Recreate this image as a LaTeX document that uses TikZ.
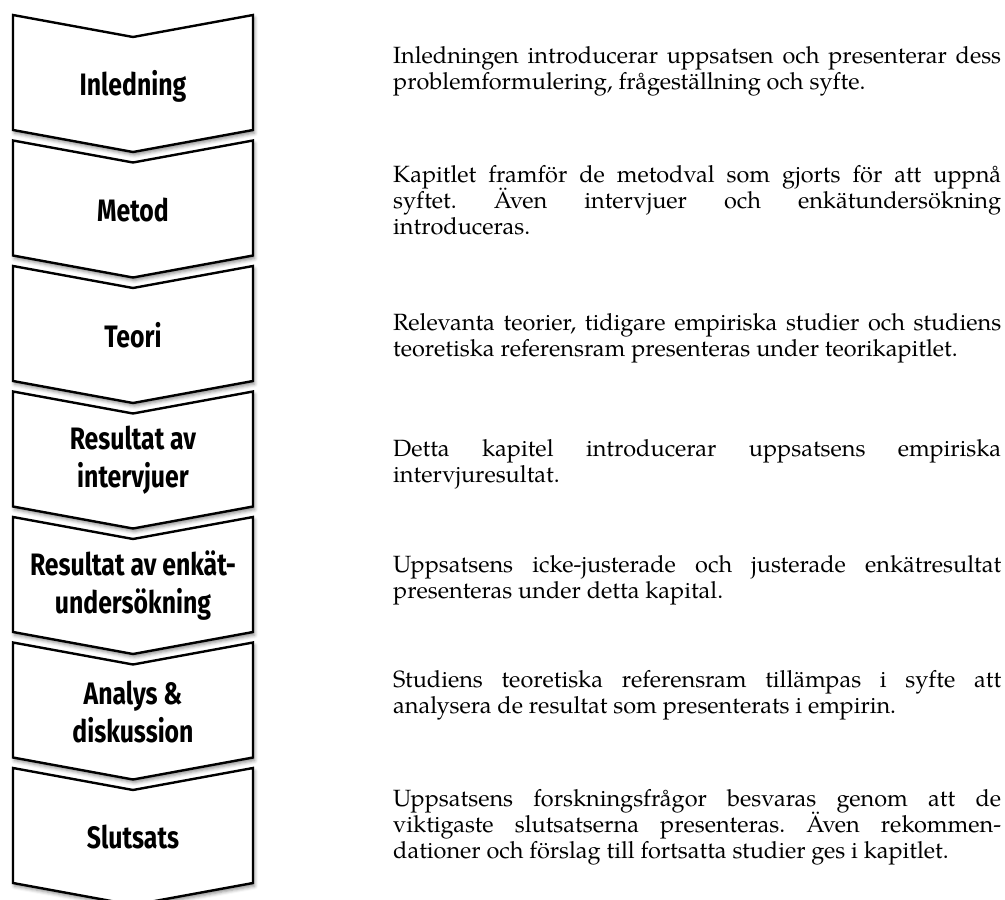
\documentclass[tikz,border=0pt]{standalone}
\usepackage{fontspec}
\setmainfont{texgyrepagella}[Extension=.otf, UprightFont=*-regular, BoldFont=*-bold, ItalicFont=*-italic, BoldItalicFont=*-bolditalic]
\newfontfamily\labelfont{Fira Sans}[FakeStretch=0.8]
\usetikzlibrary{shadows.blur}
\frenchspacing
\tikzset{
  chev/.style={draw=black, line width=2.4pt, fill=white, line join=miter,
    blur shadow={shadow xshift=1.5pt, shadow yshift=-3pt, shadow opacity=45, shadow blur radius=3.5pt}},
  lab/.style={align=center, inner sep=0pt, font=\labelfont\bfseries\fontsize{31}{38}\selectfont},
  desc/.style={anchor=base west, inner sep=0pt, font=\frenchspacing\fontsize{23.5}{27}\selectfont}
}
\newcommand{\jline}[1]{\makebox[608pt][s]{#1}}
\begin{document}
\begin{tikzpicture}[x=1pt,y=-1pt]
\useasboundingbox (0,0) rectangle (1005,900);
\foreach \i/\lab/\dy in {0/Inledning/71,1/Metod/69,2/Teori/69,3/{Resultat av\\intervjuer}/69,4/{Resultat av enkät-\\undersökning}/69,5/{Analys \&\\diskussion}/69,6/Slutsats/69}{
  \pgfmathsetmacro\yt{15+125.5*\i}
  \draw[chev] (13,\yt) -- (133,{\yt+22}) -- (253,\yt) -- (253,{\yt+115}) -- (133,{\yt+137}) -- (13,{\yt+115}) -- cycle;
  \node[lab] (l\i) at (133,{\yt+\dy}) {\lab};
}
% descriptions
\node[desc] (d1a) at (393,63) {\jline{Inledningen introducerar uppsatsen och presenterar dess}};
\node[desc] (d1b) at (393,89) {problemformulering, frågeställning och syfte.};
\node[desc] (d2a) at (393,182) {\jline{Kapitlet framför de metodval som gjorts för att uppnå}};
\node[desc] (d2b) at (393,208) {\jline{syftet. Även intervjuer och enkätundersökning}};
\node[desc] (d2c) at (393,234) {introduceras.};
\node[desc] (d3a) at (393,330) {\jline{Relevanta teorier, tidigare empiriska studier och studiens}};
\node[desc] (d3b) at (393,356) {teoretiska referensram presenteras under teorikapitlet.};
\node[desc] (d4a) at (393,456) {\jline{Detta kapitel introducerar uppsatsens empiriska}};
\node[desc] (d4b) at (393,482) {intervjuresultat.};
\node[desc] (d5a) at (393,572) {\jline{Uppsatsens icke-justerade och justerade enkätresultat}};
\node[desc] (d5b) at (393,598) {presenteras under detta kapital.};
\node[desc] (d6a) at (393,687) {\jline{Studiens teoretiska referensram tillämpas i syfte att}};
\node[desc] (d6b) at (393,713) {analysera de resultat som presenterats i empirin.};
\node[desc] (d7a) at (393,806) {\jline{Uppsatsens forskningsfrågor besvaras genom att de}};
\node[desc] (d7b) at (393,832) {\jline{viktigaste slutsatserna presenteras. Även rekommen-}};
\node[desc] (d7c) at (393,858) {dationer och förslag till fortsatta studier ges i kapitlet.};
\end{tikzpicture}
\end{document}
